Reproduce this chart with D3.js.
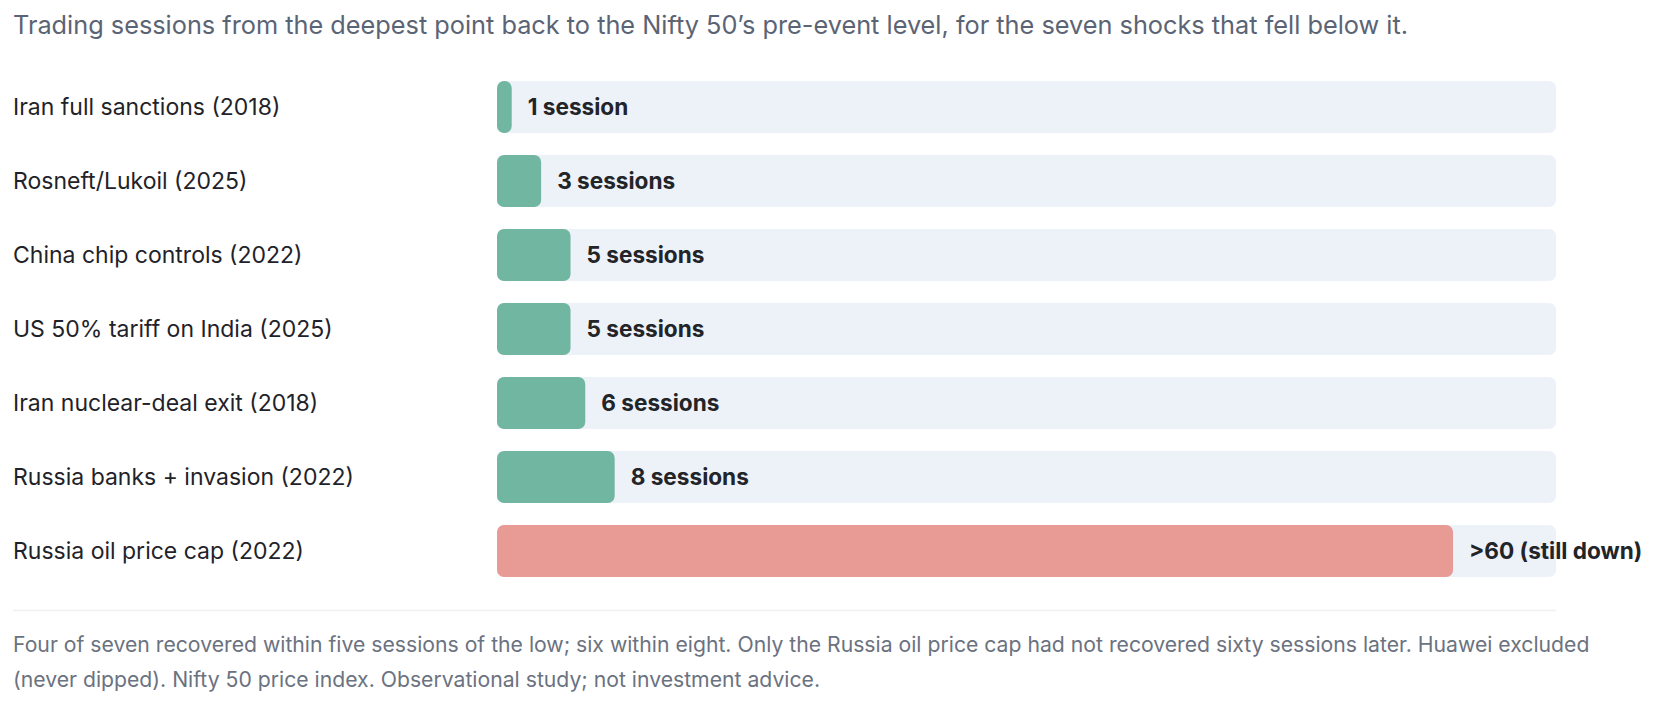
<!DOCTYPE html>
<html>
<head>
<meta charset="utf-8">
<script src="https://cdn.jsdelivr.net/npm/d3@7/dist/d3.min.js"></script>
<style>
  html, body { margin: 0; padding: 0; background: #ffffff; }
  svg { display: block; font-family: Inter, "Noto Sans", sans-serif; }
</style>
</head>
<body>
<svg id="chart" width="1658" height="706"></svg>
<script>
const categories = [
  "Iran full sanctions (2018)",
  "Rosneft/Lukoil (2025)",
  "China chip controls (2022)",
  "US 50% tariff on India (2025)",
  "Iran nuclear-deal exit (2018)",
  "Russia banks + invasion (2022)",
  "Russia oil price cap (2022)"
];
const sessions = [1, 3, 5, 5, 6, 8, 65];
const recovered = [true, true, true, true, true, true, false];
const valueLabels = ["1 session", "3 sessions", "5 sessions", "5 sessions", "6 sessions", "8 sessions", ">60 (still down)"];
const axisMax = 72;
const titleText = "Trading sessions from the deepest point back to the Nifty 50\u2019s pre-event level, for the seven shocks that fell below it.";
const footLines = [
  "Four of seven recovered within five sessions of the low; six within eight. Only the Russia oil price cap had not recovered sixty sessions later. Huawei excluded",
  "(never dipped). Nifty 50 price index. Observational study; not investment advice."
];

const svg = d3.select("#chart");
const x = d3.scaleLinear().domain([0, axisMax]).range([497, 1556]);
const y = d3.scaleBand().domain(categories).range([70, 588]).paddingInner(22/74).paddingOuter(11/74);

svg.append("text").attr("x", 13).attr("y", 34)
  .attr("font-size", 25.3).attr("fill", "#5b6474").text(titleText);

const rows = svg.selectAll("g.row").data(categories).join("g").attr("class", "row");

rows.append("text")
  .attr("x", 13).attr("y", d => y(d) + y.bandwidth()/2)
  .attr("dy", "0.35em").attr("font-size", 23).attr("fill", "#1f2329")
  .text(d => d);

rows.append("rect")
  .attr("x", x(0)).attr("y", d => y(d))
  .attr("width", x(axisMax) - x(0)).attr("height", y.bandwidth())
  .attr("rx", 7).attr("fill", "#edf1f8");

rows.append("rect")
  .attr("x", x(0)).attr("y", d => y(d))
  .attr("width", (d, i) => x(sessions[i]) - x(0)).attr("height", y.bandwidth())
  .attr("rx", 7).attr("fill", (d, i) => recovered[i] ? "#70b6a0" : "#e89a94");

rows.append("text")
  .attr("x", (d, i) => x(sessions[i]) + 16).attr("y", d => y(d) + y.bandwidth()/2)
  .attr("dy", "0.35em").attr("font-size", 22.6).attr("font-weight", 700).attr("fill", "#222428")
  .text((d, i) => valueLabels[i]);

svg.append("line").attr("x1", 13).attr("x2", 1556).attr("y1", 610.5).attr("y2", 610.5)
  .attr("stroke", "#eef0f4").attr("stroke-width", 1.5);

svg.selectAll("text.foot").data(footLines).join("text").attr("class", "foot")
  .attr("x", 13).attr("y", (d, i) => 652 + i * 35)
  .attr("font-size", 21.2).attr("fill", "#6b7280").text(d => d);
</script>
</body>
</html>
